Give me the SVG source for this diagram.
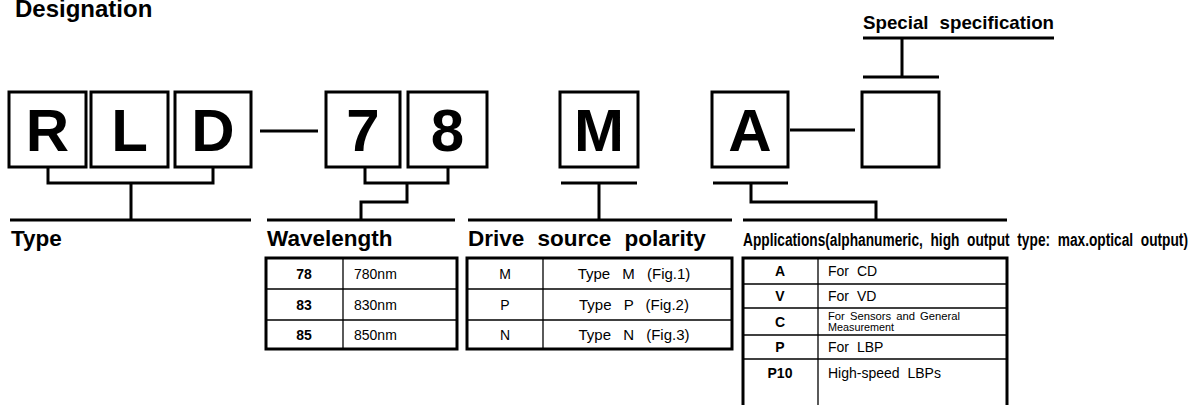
<svg xmlns="http://www.w3.org/2000/svg" width="1200" height="405" viewBox="0 0 1200 405">
<style>
.box{fill:#fff;stroke:#000;stroke-width:3}
.big{font-family:"Liberation Sans",Arial,sans-serif;font-weight:bold;font-size:60px;text-anchor:middle}
.ln{stroke:#000;stroke-width:3;fill:none}
.hd{font-family:"Liberation Sans",Arial,sans-serif;font-weight:bold;font-size:22.5px}
.tb{fill:none;stroke:#000;stroke-width:3}
.tl{stroke:#000;stroke-width:1.3}
.c{font-family:"Liberation Sans",Arial,sans-serif;font-size:14px;word-spacing:4px}
.cb{font-family:"Liberation Sans",Arial,sans-serif;font-size:14px;font-weight:bold;text-anchor:middle}
.m{text-anchor:middle}
</style>
<text x="15" y="17" class="hd" style="font-size:24px">Designation</text>
<text x="863" y="29" class="hd" style="font-size:19px" textLength="191" lengthAdjust="spacingAndGlyphs" word-spacing="6">Special specification</text>

<g id="node-R"><rect class="box" x="9" y="92" width="77" height="75"/><text class="big" x="47.5" y="151">R</text></g>
<g id="node-L"><rect class="box" x="91" y="92" width="77" height="75"/><text class="big" x="129.5" y="151">L</text></g>
<g id="node-D"><rect class="box" x="175" y="92" width="76" height="75"/><text class="big" x="213" y="151">D</text></g>
<g id="node-7"><rect class="box" x="326" y="92" width="74" height="75"/><text class="big" x="363" y="151">7</text></g>
<g id="node-8"><rect class="box" x="408" y="92" width="79" height="75"/><text class="big" x="447.5" y="151">8</text></g>
<g id="node-M"><rect class="box" x="560" y="92" width="78" height="75"/><text class="big" x="599" y="151">M</text></g>
<g id="node-A"><rect class="box" x="712" y="92" width="76" height="75"/><text class="big" x="750" y="151">A</text></g>
<g id="node-special"><rect class="box" x="862" y="92" width="77" height="75"/></g>

<g id="connectors">
<line class="ln" x1="260" y1="131" x2="318" y2="131"/>
<line class="ln" x1="790" y1="130" x2="855" y2="130"/>
<path class="ln" d="M48 167V183H213V167M131 183V220"/>
<path class="ln" d="M365 167V183H448V167M407 183V202H361V220"/>
<path class="ln" d="M561 183H637M599 183V220"/>
<path class="ln" d="M713 183H788M751 183V202H876V220"/>
<path class="ln" d="M863 38H1054M902 38V77M863 77H939"/>
<line class="ln" x1="10" y1="220" x2="251" y2="220"/>
<line class="ln" x1="267" y1="220" x2="455" y2="220"/>
<line class="ln" x1="468" y1="220" x2="732" y2="220"/>
<line class="ln" x1="743" y1="220" x2="1007" y2="220"/>
</g>

<g id="type">
<text class="hd" x="11" y="246">Type</text>
</g>

<g id="wavelength">
<text class="hd" x="267" y="246">Wavelength</text>
<line class="tl" x1="266" y1="289" x2="457" y2="289"/>
<line class="tl" x1="266" y1="320" x2="457" y2="320"/>
<line class="tl" x1="343" y1="258" x2="343" y2="349"/>
<rect class="tb" x="266" y="258" width="191" height="91"/>
<text class="cb" x="304" y="279">78</text><text class="c" x="354" y="279">780nm</text>
<text class="cb" x="304" y="310">83</text><text class="c" x="354" y="310">830nm</text>
<text class="cb" x="304" y="340">85</text><text class="c" x="354" y="340">850nm</text>
</g>

<g id="drive">
<text class="hd" x="468" y="246" word-spacing="7">Drive source polarity</text>
<line class="tl" x1="467" y1="289" x2="732" y2="289"/>
<line class="tl" x1="467" y1="320" x2="732" y2="320"/>
<line class="tl" x1="543" y1="258" x2="543" y2="349"/>
<rect class="tb" x="467" y="258" width="265" height="91"/>
<text class="c m" x="505" y="279">M</text><text class="c m" x="634" y="279" style="font-size:15px;word-spacing:8px">Type M (Fig.1)</text>
<text class="c m" x="505" y="310">P</text><text class="c m" x="634" y="310" style="font-size:15px;word-spacing:8px">Type P (Fig.2)</text>
<text class="c m" x="505" y="340">N</text><text class="c m" x="634" y="340" style="font-size:15px;word-spacing:8px">Type N (Fig.3)</text>
</g>

<g id="applications">
<text class="hd" x="743" y="246" style="font-size:18px" textLength="445" lengthAdjust="spacingAndGlyphs" word-spacing="5">Applications(alphanumeric, high output type: max.optical output)</text>
<line class="tl" x1="743" y1="284" x2="1007" y2="284"/>
<line class="tl" x1="743" y1="308" x2="1007" y2="308"/>
<line class="tl" x1="743" y1="335" x2="1007" y2="335"/>
<line class="tl" x1="743" y1="359" x2="1007" y2="359"/>
<line class="tl" x1="818" y1="258" x2="818" y2="405"/>
<path class="tb" d="M743 405V258H1007V405"/>
<text class="cb" x="780" y="276">A</text><text class="c" x="828" y="276">For CD</text>
<text class="cb" x="780" y="301">V</text><text class="c" x="828" y="301">For VD</text>
<text class="cb" x="780" y="327">C</text>
<text class="c" x="828" y="320" style="font-size:11.5px;word-spacing:2px" textLength="132" lengthAdjust="spacingAndGlyphs">For Sensors and General</text>
<text class="c" x="828" y="331" style="font-size:11.5px" textLength="66" lengthAdjust="spacingAndGlyphs">Measurement</text>
<text class="cb" x="780" y="352">P</text><text class="c" x="828" y="352">For LBP</text>
<text class="cb" x="780" y="378">P10</text><text class="c" x="828" y="378">High-speed LBPs</text>
</g>
</svg>
